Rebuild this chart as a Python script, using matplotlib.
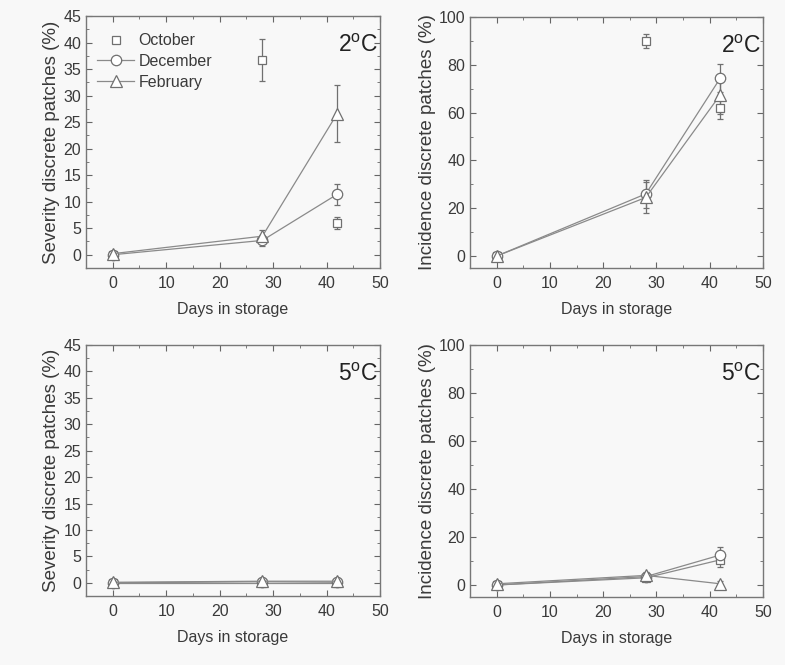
import numpy as np
import matplotlib
matplotlib.use("Agg")
import matplotlib.pyplot as plt
from matplotlib.ticker import MultipleLocator
from matplotlib.lines import Line2D

plt.rcParams['font.family'] = ['Liberation Sans', 'DejaVu Sans']

days = [0, 28, 42]
months = ['October', 'December', 'February']

# Severity 2 C
sev2_oct = [0.0, 36.7, 6.0]
sev2_oct_err = [0.0, 4.0, 1.2]
sev2_dec = [0.0, 2.7, 11.4]
sev2_dec_err = [0.3, 1.0, 2.0]
sev2_feb = [0.2, 3.5, 26.6]
sev2_feb_err = [0.3, 1.2, 5.3]

# Incidence 2 C
inc2_oct = [0.0, 90.0, 62.0]
inc2_oct_err = [0.0, 3.0, 4.5]
inc2_dec = [0.0, 26.0, 74.5]
inc2_dec_err = [0.0, 6.0, 6.0]
inc2_feb = [0.0, 24.5, 67.5]
inc2_feb_err = [0.0, 6.5, 8.0]

# Severity 5 C
sev5_oct = [0.0, 0.0, 0.0]
sev5_oct_err = [0.0, 0.1, 0.1]
sev5_dec = [0.0, 0.2, 0.1]
sev5_dec_err = [0.1, 0.3, 0.3]
sev5_feb = [0.1, 0.3, 0.3]
sev5_feb_err = [0.1, 0.4, 0.5]

# Incidence 5 C
inc5_oct = [0.0, 3.0, 10.5]
inc5_oct_err = [0.0, 1.0, 3.0]
inc5_dec = [0.0, 3.5, 12.5]
inc5_dec_err = [0.0, 1.0, 3.5]
inc5_feb = [0.5, 4.0, 0.5]
inc5_feb_err = [1.0, 1.5, 1.0]

line_col = '#8a8a8a'
mk_col = '#707070'
text_col = '#3a3a3a'
bg = '#f8f8f8'

fig = plt.figure(figsize=(7.85, 6.65), dpi=100, facecolor=bg)

W, H = 785, 665
def box(x0, y0, x1, y1):
    return [x0 / W, 1 - y1 / H, (x1 - x0) / W, (y1 - y0) / H]

sup2 = '2$^{\\mathregular{o}}$C'
sup5 = '5$^{\\mathregular{o}}$C'

# rect, ylabel, temp label, series, errors, ylim, major, minor, legend, october joined
panels = [
    (box(86, 16, 380, 268), 'Severity discrete patches (%)', sup2,
     (sev2_oct, sev2_dec, sev2_feb), (sev2_oct_err, sev2_dec_err, sev2_feb_err), (-2.5, 45), 5, 2.5, True, False),
    (box(470, 17, 763, 268), 'Incidence discrete patches (%)', sup2,
     (inc2_oct, inc2_dec, inc2_feb), (inc2_oct_err, inc2_dec_err, inc2_feb_err), (-5, 100), 20, 10, False, False),
    (box(86, 345, 380, 596), 'Severity discrete patches (%)', sup5,
     (sev5_oct, sev5_dec, sev5_feb), (sev5_oct_err, sev5_dec_err, sev5_feb_err), (-2.5, 45), 5, 2.5, False, True),
    (box(470, 345, 763, 597), 'Incidence discrete patches (%)', sup5,
     (inc5_oct, inc5_dec, inc5_feb), (inc5_oct_err, inc5_dec_err, inc5_feb_err), (-5, 100), 20, 10, False, True),
]

markers = ['s', 'o', '^']
msizes = [5.5, 7.5, 8.5]

for rect, ylabel, temp, series, errs, ylim, ymaj, ymin, show_leg, oct_line in panels:
    ax = fig.add_axes(rect)
    ax.set_facecolor(bg)
    for i, (vals, err) in enumerate(zip(series, errs)):
        ls = '-' if (i > 0 or oct_line) else 'none'
        ax.errorbar(days, vals, yerr=err, linestyle=ls, color=line_col, lw=0.9,
                    marker=markers[i], ms=msizes[i], mfc='white', mec=mk_col, mew=0.9,
                    ecolor=mk_col, elinewidth=0.9, capsize=2)
    ax.set_xlim(-5, 50)
    ax.set_ylim(*ylim)
    ax.xaxis.set_major_locator(MultipleLocator(10))
    ax.xaxis.set_minor_locator(MultipleLocator(5))
    ax.yaxis.set_major_locator(MultipleLocator(ymaj))
    ax.yaxis.set_minor_locator(MultipleLocator(ymin))
    ax.tick_params(which='both', direction='in', top=True, right=True,
                   colors='#666666', labelcolor=text_col, labelsize=11.5)
    ax.tick_params(axis='x', which='major', pad=6)
    ax.tick_params(which='major', length=4)
    ax.tick_params(which='minor', length=2)
    for s in ax.spines.values():
        s.set_color('#777777')
        s.set_linewidth(1.0)
    ax.set_xlabel('Days in storage', fontsize=11.5, color=text_col, labelpad=8)
    ax.set_ylabel(ylabel, fontsize=13.5, color=text_col, labelpad=2)
    ax.text(0.995, 0.93, temp, transform=ax.transAxes, ha='right', va='top',
            fontsize=16.5, color='#222222')
    if show_leg:
        handles = [Line2D([], [], linestyle='none', marker='s', ms=5.5, mfc='white', mec=mk_col, mew=0.9),
                   Line2D([], [], linestyle='-', color=line_col, lw=0.9, marker='o', ms=7.5,
                          mfc='white', mec=mk_col, mew=0.9),
                   Line2D([], [], linestyle='-', color=line_col, lw=0.9, marker='^', ms=8.5,
                          mfc='white', mec=mk_col, mew=0.9)]
        leg = ax.legend(handles, months, loc='upper left', bbox_to_anchor=(0.0, 0.975), frameon=False,
                        fontsize=11.5, handlelength=2.3, labelspacing=0.35,
                        borderaxespad=0.3, handletextpad=0.3)
        for t in leg.get_texts():
            t.set_color(text_col)

fig.savefig('out.png', dpi=100, facecolor=bg)
